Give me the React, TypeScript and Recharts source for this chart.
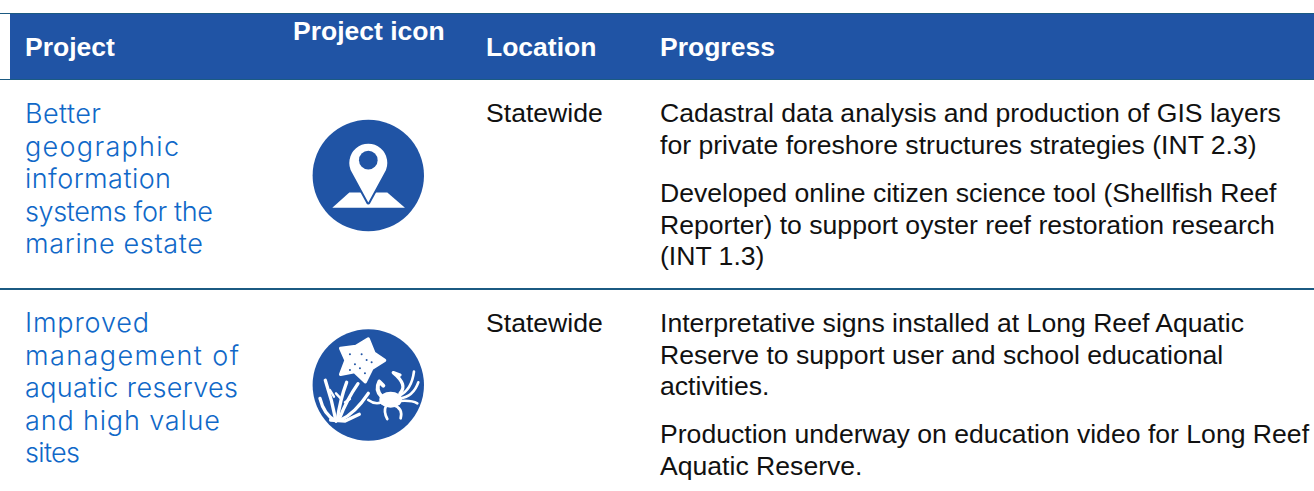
import React from "react";
import { ScatterChart, Scatter, XAxis, YAxis, ReferenceArea, ReferenceLine } from "recharts";

const W = 1314;
const H = 491;

const headers = ["Project", "Project icon", "Location", "Progress"];
const projectOne = ["Better", "geographic", "information", "systems for the", "marine estate"];
const projectTwo = ["Improved", "management of", "aquatic reserves", "and high value", "sites"];
const locations = ["Statewide", "Statewide"];
const progressOne = [
  "Cadastral data analysis and production of GIS layers",
  "for private foreshore structures strategies (INT 2.3)",
];
const progressTwo = [
  "Developed online citizen science tool (Shellfish Reef",
  "Reporter) to support oyster reef restoration research",
  "(INT 1.3)",
];
const progressThree = [
  "Interpretative signs installed at Long Reef Aquatic",
  "Reserve to support user and school educational",
  "activities.",
];
const progressFour = ["Production underway on education video for Long Reef", "Aquatic Reserve."];
const icons = ["map", "reef"];

// the original font is a wide geometric one, so these lines are stretched to its measured widths
const projectOneWidths = [76, 154, 146, 188, 178];
const projectTwoWidths = [124, 214, 213, 195, 55];

const BLUE = "#2054a5";
const EDGE = "#1b5a82";
const LINK = "#1068c8";
const TEXT = "#111111";

// lays a block of lines out from its first baseline
const block = (lines: string[], x: number, y: number, pitch: number) =>
  lines.map((text, i) => ({ x, y: y + i * pitch, text }));

const headerPoints = [
  { x: 25, y: 56, text: headers[0] },
  { x: 293, y: 40, text: headers[1] },
  { x: 486, y: 56, text: headers[2] },
  { x: 660, y: 56, text: headers[3] },
];
const projectPoints = [
  ...block(projectOne, 25, 123, 32.6).map((p, i) => ({ ...p, width: projectOneWidths[i] })),
  ...block(projectTwo, 25, 332, 32.6).map((p, i) => ({ ...p, width: projectTwoWidths[i] })),
];
const bodyPoints = [
  { x: 486, y: 122, text: locations[0] },
  { x: 486, y: 332, text: locations[1] },
  ...block(progressOne, 660, 122, 31.5),
  ...block(progressTwo, 660, 202, 31.6),
  ...block(progressThree, 660, 332, 31.7),
  ...block(progressFour, 660, 443, 31.5),
];
const iconPoints = [
  { x: 368.3, y: 175.5, icon: icons[0] },
  { x: 368.3, y: 385, icon: icons[1] },
];

const textShape = (family: string, size: number, weight: number, fill: string) => (props: any) => (
  <text
    x={props.cx}
    y={props.cy}
    fontFamily={family}
    fontSize={size}
    fontWeight={weight}
    fill={fill}
    textLength={props.payload.width}
  >
    {props.payload.text}
  </text>
);

const PIN = "M205 232 L156 142 A57 57 0 1 1 254 142 Z";

const MapIcon = () => (
  <g transform="scale(0.3333) translate(-205,-151)">
    <path d="M97 248 L148 202 L262 202 L315 248 Z" fill="#fff" />
    <path d={PIN} fill={BLUE} stroke={BLUE} strokeWidth={12} strokeLinejoin="round" />
    <path d={PIN} fill="#fff" />
    <circle cx={205} cy={105} r={28} fill={BLUE} />
  </g>
);

const ReefIcon = () => (
  <g transform="scale(0.3333) translate(-205,-180)">
    <path
      d="M205 42 L222 84 L254 106 L216 130 L196 170 L164 140 L122 148 L138 106 L122 70 L168 64 Z"
      fill="#fff"
      stroke="#fff"
      strokeWidth={10}
      strokeLinejoin="round"
    />
    {[[150, 88], [185, 88], [165, 118], [200, 105], [180, 130], [215, 112], [150, 135], [195, 145]].map(([x, y], i) => (
      <circle key={i} cx={x} cy={y} r={3} fill={BLUE} />
    ))}
    <g fill="none" stroke="#fff" strokeLinecap="round" strokeWidth={10}>
      <path d="M108 288 Q96 225 76 166" />
      <path d="M108 288 Q72 270 60 220" />
      <path d="M112 285 Q120 225 140 172" />
      <path d="M118 282 Q140 225 174 176" />
      <path d="M122 285 Q165 265 205 205" />
      <path d="M92 285 L135 288 L178 268" />
      <path d="M90 195 L102 215 M122 220 L108 205 M150 222 L135 232" strokeWidth={7} />
      <path d="M245 215 Q225 195 238 170 M238 170 L250 182" strokeWidth={12} />
      <path d="M300 205 Q325 180 280 143 M280 143 L300 150" strokeWidth={10} />
      <path d="M298 212 Q335 195 342 140" strokeWidth={8} />
      <path d="M300 220 Q340 215 355 172" strokeWidth={8} />
      <path d="M298 228 Q335 225 352 235" strokeWidth={8} />
      <path d="M280 240 Q310 250 302 280" strokeWidth={8} />
      <path d="M258 243 Q250 260 262 282" strokeWidth={8} />
      <path d="M245 232 Q225 240 205 225" strokeWidth={8} />
    </g>
    <ellipse cx={272} cy={224} rx={34} ry={24} fill="#fff" />
  </g>
);

const iconShape = (props: any) => (
  <g transform={`translate(${props.cx},${props.cy})`}>
    <circle r={55.7} fill={BLUE} />
    {props.payload.icon === "map" ? <MapIcon /> : <ReefIcon />}
  </g>
);

const App: React.FC = () => (
  <div style={{ position: "absolute", left: 0, top: 0, width: W, height: H, background: "#fff" }}>
    <ScatterChart width={W} height={H} margin={{ top: 0, right: 0, bottom: 0, left: 0 }}>
      <XAxis type="number" dataKey="x" domain={[0, W]} hide />
      <YAxis type="number" dataKey="y" domain={[0, H]} reversed hide />
      <ReferenceArea x1={10} x2={W} y1={13} y2={80} fill={BLUE} fillOpacity={1} stroke="none" />
      <ReferenceLine y={13.5} segment={[{ x: 10, y: 13.5 }, { x: W, y: 13.5 }]} stroke={EDGE} />
      <ReferenceLine y={79.5} segment={[{ x: 10, y: 79.5 }, { x: W, y: 79.5 }]} stroke={EDGE} />
      <ReferenceLine y={289} segment={[{ x: 10, y: 289 }, { x: W, y: 289 }]} stroke={EDGE} strokeWidth={2} />
      <Scatter data={iconPoints} shape={iconShape} isAnimationActive={false} />
      <Scatter
        data={headerPoints}
        shape={textShape("Liberation Sans", 26.5, 700, "#ffffff")}
        isAnimationActive={false}
      />
      <Scatter
        data={projectPoints}
        shape={textShape("Inter", 27, 300, LINK)}
        isAnimationActive={false}
      />
      <Scatter
        data={bodyPoints}
        shape={textShape("Liberation Sans", 26.6, 400, TEXT)}
        isAnimationActive={false}
      />
    </ScatterChart>
  </div>
);

export default App;
